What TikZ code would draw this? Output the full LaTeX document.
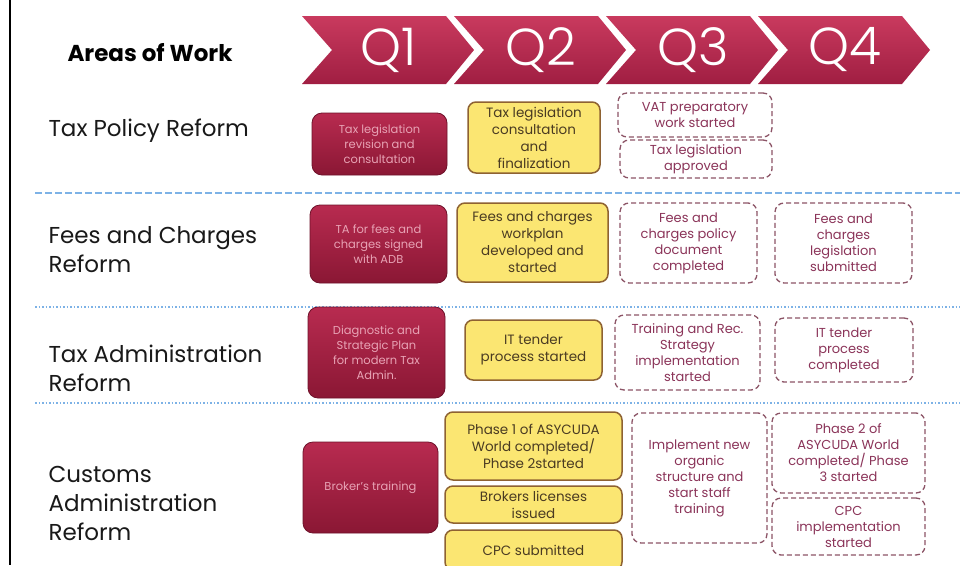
\documentclass[tikz,border=0pt]{standalone}
\usepackage{fontspec}
\setmainfont{Poppins}
\newfontfamily\qfont{Poppins Light}

\definecolor{chevtop}{HTML}{C93A5E}
\definecolor{chevbot}{HTML}{A01E42}
\definecolor{redtop}{HTML}{B82B50}
\definecolor{redbot}{HTML}{8A1734}
\definecolor{redtext}{HTML}{E8A3B5}
\definecolor{yelfill}{HTML}{FBE672}
\definecolor{yelline}{HTML}{8E6232}
\definecolor{yeltext}{HTML}{4A3B22}
\definecolor{dashline}{HTML}{8C5466}
\definecolor{dashtext}{HTML}{8B3459}
\definecolor{seplight}{HTML}{7DB2E6}

\tikzset{
  boxsize/.style 2 args={minimum width=#1pt, minimum height=#2pt},
  redbox/.style={rounded corners=10pt, draw=redbot!80!black, line width=0.8pt,
    top color=redtop, bottom color=redbot, text=redtext, align=center,
    font=\fontsize{11.5}{15}\selectfont, inner sep=2pt},
  yelbox/.style={rounded corners=8pt, draw=yelline, line width=1.5pt,
    fill=yelfill, text=yeltext, align=center,
    font=\fontsize{13.5}{17}\selectfont, inner sep=2pt},
  plannedbox/.style={rounded corners=9pt, draw=dashline, line width=1.3pt,
    dash pattern=on 5pt off 3pt, text=dashtext, align=center,
    font=\fontsize{13}{16}\selectfont, inner sep=2pt},
  area/.style={anchor=west, align=left, font=\fontsize{23}{29}\selectfont, text=black!90},
  qlabel/.style={text=white, font=\qfont\fontsize{52}{52}\selectfont},
  separator/.style={seplight, line width=1.1pt},
}

\begin{document}
\begin{tikzpicture}[x=1pt, y=-1pt]
\useasboundingbox (0,0) rectangle (960,565);
\clip (0,0) rectangle (960,565);
\fill[white] (0,0) rectangle (960,565);

% left border line
\coordinate (bordertop) at (10,0);
\coordinate (borderbot) at (10,565);
\draw[line width=2.2pt] (bordertop) -- (borderbot);

% header
\node[font=\bfseries\fontsize{23}{28}\selectfont] (areas) at (150,53) {Areas of Work};
\foreach \q [count=\i from 0] in {1,2,3,4}{
  \pgfmathsetmacro\L{302+152*\i}
  \shade[top color=chevtop, bottom color=chevbot]
    (\L,16) -- ++(144,0) -- ++(28,34) -- ++(-28,34) -- ++(-144,0) -- ++(30,-34) -- cycle;
  \node[qlabel] (q\q) at (\L+87,50) {Q\q};
}

% separators
\coordinate (s1w) at (35,193); \coordinate (s1e) at (960,193);
\coordinate (s2w) at (35,307); \coordinate (s2e) at (960,307);
\coordinate (s3w) at (35,403); \coordinate (s3e) at (960,403);
\draw[separator, dash pattern=on 7pt off 3pt] (s1w) -- (s1e);
\draw[separator, dash pattern=on 1.5pt off 2pt] (s2w) -- (s2e);
\draw[separator, dash pattern=on 1.5pt off 2pt] (s3w) -- (s3e);

% Tax Policy Reform
\node[area] (taxpolicy) at (45,131) {Tax Policy Reform};
\node[redbox, boxsize={135}{62}] (tpq1) at (379.5,144) {Tax legislation\\revision and\\consultation};
\node[yelbox, boxsize={132}{71}] (tpq2) at (534,137.5) {Tax legislation\\consultation\\and\\finalization};
\node[plannedbox, boxsize={154}{44}] (tpq3a) at (695,115) {VAT preparatory\\work started};
\node[plannedbox, boxsize={152}{38}] (tpq3b) at (696,159) {Tax legislation\\approved};

% Fees and Charges Reform
\node[area] (feescharges) at (45,250) {Fees and Charges\\Reform};
\node[redbox, boxsize={137}{78}] (fcq1) at (378.5,244) {TA for fees and\\charges signed\\with ADB};
\node[yelbox, boxsize={151}{79}] (fcq2) at (532.5,242.5) {Fees and charges\\workplan\\developed and\\started};
\node[plannedbox, boxsize={137}{80}] (fcq3) at (688.5,243) {Fees and\\charges policy\\document\\completed};
\node[plannedbox, boxsize={137}{80}] (fcq4) at (843.5,243) {Fees and\\charges\\legislation\\submitted};

% Tax Administration Reform
\node[area] (taxadmin) at (45,368) {Tax Administration\\Reform};
\node[redbox, boxsize={137}{91}] (taq1) at (376.5,352.5) {Diagnostic and\\Strategic Plan\\for modern Tax\\Admin.};
\node[yelbox, boxsize={137}{60}] (taq2) at (533.5,350) {IT tender\\process started};
\node[plannedbox, boxsize={145}{75}] (taq3) at (687.5,352.5) {Training and Rec.\\Strategy\\implementation\\started};
\node[plannedbox, boxsize={138}{64}] (taq4) at (844,350) {IT tender\\process\\completed};

% Customs Administration Reform
\node[area] (customs) at (45,503) {Customs\\Administration\\Reform};
\node[redbox, boxsize={135}{91}] (caq1) at (370.5,487.5) {Broker’s training};
\node[yelbox, boxsize={177}{68}] (caq2a) at (533.5,446) {Phase 1 of ASYCUDA\\World completed/\\Phase 2started};
\node[yelbox, boxsize={177}{37}] (caq2b) at (533.5,504.5) {Brokers licenses\\issued};
\node[yelbox, boxsize={177}{40}] (caq2c) at (533.5,550) {CPC submitted};
\node[plannedbox, boxsize={135}{130}] (caq3) at (699.5,478) {Implement new\\organic\\structure and\\start staff\\training};
\node[plannedbox, boxsize={153}{80}] (caq4a) at (848.5,453) {Phase 2 of\\ASYCUDA World\\completed/ Phase\\3 started};
\node[plannedbox, boxsize={153}{57}] (caq4b) at (848.5,526.5) {CPC\\implementation\\started};
\end{tikzpicture}
\end{document}
